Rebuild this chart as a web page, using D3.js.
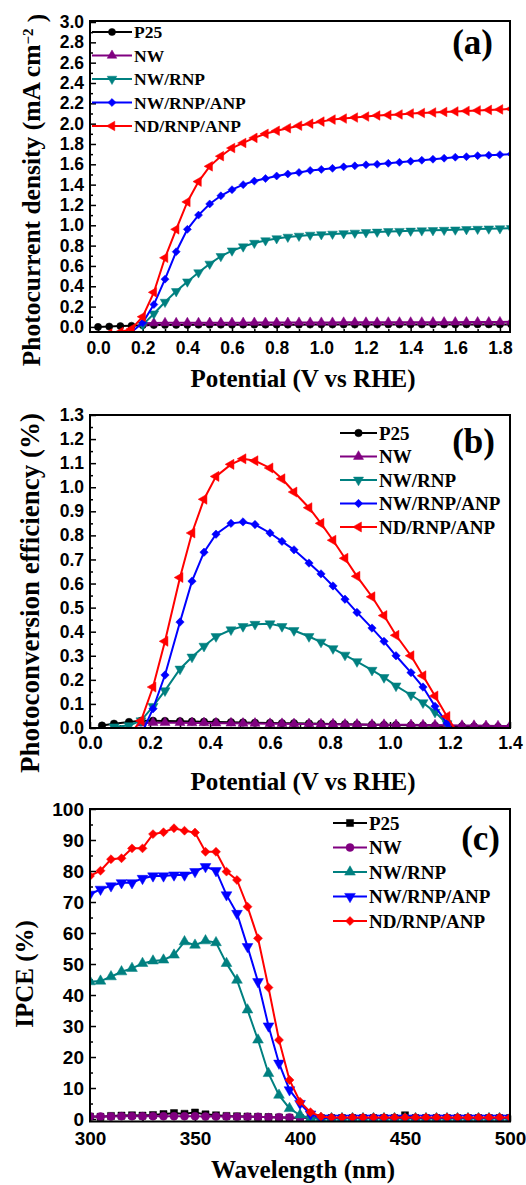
<!DOCTYPE html>
<meta charset="utf-8">
<head>
<title>Photocurrent, photoconversion efficiency and IPCE</title>
<style>
  body { margin: 0; background: #fff; }
  .axis path { display: none; }
  .axis line { stroke: #000; stroke-width: 1.5; }
</style>
</head>
<body>
<script src="https://cdn.jsdelivr.net/npm/d3@7/dist/d3.min.js"></script>
<script>

// series shared by the three panels
var names  = ["P25", "NW", "NW/RNP", "NW/RNP/ANP", "ND/RNP/ANP"];
var colors = ["#000000", "#800080", "#008080", "#0000ff", "#ff0000"];

// (a) photocurrent density (mA cm-2) vs potential (V vs RHE)
var potentialA = [0.00, 0.05, 0.10, 0.15, 0.20, 0.25, 0.30, 0.35, 0.40, 0.45, 0.50, 0.55, 0.60, 0.65, 0.70, 0.75, 0.80, 0.85, 0.90,
                  0.95, 1.00, 1.05, 1.10, 1.15, 1.20, 1.25, 1.30, 1.35, 1.40, 1.45, 1.50, 1.55, 1.60, 1.65, 1.70, 1.75, 1.80, 1.85];
var p25A    = [0.000, 0.004, 0.008, 0.012, 0.016, 0.018, 0.019, 0.020, 0.020, 0.021, 0.021, 0.021, 0.021, 0.022, 0.022, 0.022, 0.022, 0.022, 0.022,
               0.023, 0.023, 0.023, 0.023, 0.023, 0.023, 0.023, 0.024, 0.024, 0.024, 0.024, 0.024, 0.024, 0.024, 0.025, 0.025, 0.025, 0.025, 0.025];
var nwA     = [null, null, null, null, 0.035, 0.038, 0.040, 0.040, 0.041, 0.041, 0.042, 0.042, 0.042, 0.042, 0.043, 0.043, 0.043, 0.043, 0.044,
               0.044, 0.044, 0.044, 0.045, 0.045, 0.045, 0.045, 0.046, 0.046, 0.046, 0.046, 0.047, 0.047, 0.047, 0.048, 0.048, 0.048, 0.049, 0.050];
var nwRnpA  = [null, null, null, null, 0.02, 0.13, 0.245, 0.35, 0.445, 0.535, 0.62, 0.695, 0.75, 0.79, 0.825, 0.85, 0.87, 0.885, 0.895,
               0.905, 0.91, 0.915, 0.92, 0.925, 0.93, 0.935, 0.94, 0.942, 0.945, 0.948, 0.95, 0.953, 0.956, 0.96, 0.963, 0.966, 0.968, 0.97];
var nwRnpAnpA = [null, null, -0.07, -0.05, 0.04, 0.22, 0.47, 0.74, 0.96, 1.10, 1.21, 1.29, 1.35, 1.40, 1.435, 1.46, 1.485, 1.505, 1.52,
                 1.54, 1.55, 1.56, 1.575, 1.585, 1.595, 1.60, 1.61, 1.62, 1.63, 1.64, 1.65, 1.66, 1.67, 1.675, 1.685, 1.69, 1.695, 1.70];
var ndRnpAnpA = [null, -0.065, -0.05, -0.02, 0.10, 0.34, 0.68, 0.96, 1.23, 1.43, 1.58, 1.68, 1.76, 1.81, 1.86, 1.90, 1.93, 1.955, 1.98,
                 2.00, 2.02, 2.04, 2.05, 2.06, 2.07, 2.08, 2.085, 2.09, 2.10, 2.105, 2.11, 2.115, 2.12, 2.125, 2.13, 2.135, 2.14, 2.145];
var yTicksA = [0.0, 0.2, 0.4, 0.6, 0.8, 1.0, 1.2, 1.4, 1.6, 1.8, 2.0, 2.2, 2.4, 2.6, 2.8, 3.0];
var xTicksA = [0.0, 0.2, 0.4, 0.6, 0.8, 1.0, 1.2, 1.4, 1.6, 1.8];

// (b) photoconversion efficiency (%) vs potential (V vs RHE)
var potentialB = [0.04, 0.08, 0.13, 0.17, 0.21, 0.25, 0.30, 0.34, 0.38, 0.42, 0.47, 0.51, 0.55, 0.60, 0.64, 0.68, 0.73,
                  0.77, 0.81, 0.85, 0.89, 0.94, 0.98, 1.02, 1.07, 1.11, 1.15, 1.19, 1.24, 1.28, 1.32, 1.36, 1.40];
var p25B    = [0.010, 0.018, 0.025, 0.030, 0.030, 0.029, 0.028, 0.027, 0.026, 0.025, 0.024, 0.023, 0.022, 0.021, 0.020, 0.020, 0.019,
               0.018, 0.017, 0.016, 0.015, 0.014, 0.013, 0.012, 0.011, 0.010, 0.009, 0.008, 0.007, 0.006, 0.005, 0.004, 0.003];
var nwB     = [null, null, null, 0.020, 0.022, 0.022, 0.022, 0.021, 0.021, 0.020, 0.020, 0.019, 0.019, 0.018, 0.018, 0.017, 0.017,
               0.016, 0.016, 0.015, 0.015, 0.014, 0.014, 0.013, 0.013, 0.012, 0.012, 0.011, 0.010, 0.010, 0.009, 0.008, 0.008];
var nwRnpB  = [null, 0.005, 0.01, 0.03, 0.09, 0.155, 0.245, 0.295, 0.34, 0.38, 0.408, 0.422, 0.431, 0.433, 0.422, 0.405, 0.38,
               0.357, 0.33, 0.303, 0.276, 0.24, 0.21, 0.175, 0.137, 0.105, 0.066, 0.018, -0.05, null, null, null, null];
var nwRnpAnpB = [null, null, null, -0.03, 0.08, 0.22, 0.44, 0.61, 0.73, 0.805, 0.85, 0.856, 0.845, 0.81, 0.775, 0.74, 0.685,
                 0.64, 0.59, 0.535, 0.48, 0.415, 0.36, 0.30, 0.23, 0.17, 0.09, 0.02, -0.06, null, null, null, null];
var ndRnpAnpB = [null, null, -0.03, 0.03, 0.17, 0.36, 0.625, 0.81, 0.95, 1.045, 1.095, 1.118, 1.11, 1.08, 1.035, 0.98, 0.915,
                 0.85, 0.78, 0.705, 0.63, 0.545, 0.467, 0.385, 0.30, 0.217, 0.133, 0.048, -0.05, null, null, null, null];
var yTicksB = [0.0, 0.1, 0.2, 0.3, 0.4, 0.5, 0.6, 0.7, 0.8, 0.9, 1.0, 1.1, 1.2, 1.3];
var xTicksB = [0.0, 0.2, 0.4, 0.6, 0.8, 1.0, 1.2, 1.4];

// (c) IPCE (%) vs wavelength (nm)
var wavelengthC = [300, 305, 310, 315, 320, 325, 330, 335, 340, 345, 350, 355, 360, 365, 370, 375, 380, 385, 390, 395, 400,
                   405, 410, 415, 420, 425, 430, 435, 440, 445, 450, 455, 460, 465, 470, 475, 480, 485, 490, 495, 500];
var p25C    = [0.8, 0.7, 1.0, 1.1, 1.2, 1.1, 1.3, 1.6, 1.9, 1.7, 2.1, 1.5, 1.2, 1.0, 0.9, 0.8, 0.7, 0.6, 0.5, 0.4, 0.3,
               0.3, 0.3, 0.3, 0.3, 0.3, 0.3, 0.3, 0.3, 0.3, 1.2, 0.3, 0.3, 0.3, 0.3, 0.3, 0.3, 0.3, 0.3, 0.3, 0.3];
var nwC     = [0.8, 0.8, 0.8, 0.9, 0.9, 0.9, 0.9, 0.9, 0.9, 0.9, 0.9, 0.8, 0.8, 0.8, 0.7, 0.7, 0.7, 0.6, 0.6, 0.5, 0.4,
               0.3, 0.3, 0.3, 0.3, 0.3, 0.3, 0.3, 0.3, 0.3, 0.3, 0.3, 0.3, 0.3, 0.3, 0.3, 0.3, 0.3, 0.3, 0.3, 0.3];
var nwRnpC  = [44.3, 44.5, 45.9, 47.5, 48.6, 50.2, 51.0, 51.3, 52.9, 57.2, 56.1, 57.5, 56.9, 50.2, 44.8, 35.2, 25.5, 14.7, 7.7, 3.4, 1.3,
               0.2, 0.2, 0.2, 0.2, 0.2, 0.2, 0.2, 0.2, 0.2, 0.2, 0.2, 0.2, 0.2, 0.2, 0.2, 0.2, 0.2, 0.2, 0.2, 0.2];
var nwRnpAnpC = [72.5, 74.1, 75.2, 76.2, 76.2, 77.6, 78.4, 78.4, 78.7, 78.7, 79.8, 81.4, 80.1, 72.3, 66.3, 55.6, 44.3, 30.0, 18.0, 9.4, 5.0,
                 1.6, 0.3, 0.3, 0.3, 0.3, 0.3, 0.3, 0.3, 0.3, 0.3, 0.3, 0.3, 0.3, 0.3, 0.3, 0.3, 0.3, 0.3, 0.3, 0.3];
var ndRnpAnpC = [78.4, 80.1, 83.8, 84.1, 87.3, 87.3, 91.9, 92.5, 93.8, 93.0, 92.4, 86.2, 86.2, 79.8, 77.1, 68.5, 58.3, 42.4, 25.5, 12.6, 5.6,
                 2.2, 0.75, 0.5, 0.5, 0.5, 0.5, 0.5, 0.5, 0.5, 0.5, 0.5, 0.5, 0.5, 0.5, 0.5, 0.5, 0.5, 0.5, 0.5, 0.5];
var yTicksC = [0, 10, 20, 30, 40, 50, 60, 70, 80, 90, 100];
var xTicksC = [300, 350, 400, 450, 500];


var svg = d3.select("body").append("svg")
    .attr("width", 526)
    .attr("height", 1185)
    .attr("font-family", "'Liberation Serif', 'DejaVu Serif', serif")
    .attr("font-weight", "bold");

var symbolTypes = {circle: d3.symbolCircle, square: d3.symbolSquare, diamond: d3.symbolSquare,
                   up: d3.symbolTriangle, down: d3.symbolTriangle, left: d3.symbolTriangle};
var symbolRot = {diamond: 45, down: 180, left: -90};

function drawMarker(sel, kind, size, color, cx, cy) {
  sel.append("path")
      .attr("d", d3.symbol().type(symbolTypes[kind]).size(kind == "diamond" ? size * 0.8 : size)())
      .attr("transform", "translate(" + cx + "," + cy + ") rotate(" + (symbolRot[kind] || 0) + ")")
      .style("fill", color)
      .style("stroke", color)
      .style("stroke-width", 0.5);
}

function minorsOf(ticks, lo, hi) {
  var step = ticks[1] - ticks[0], out = [];
  ticks.forEach(function(t) {
    var m = t + step / 2;
    if (m > lo && m < hi) out.push(m);
  });
  var first = ticks[0] - step / 2;
  if (first > lo) out.push(first);
  return out;
}

function drawPanel(p) {
  var x = d3.scaleLinear().domain(p.xDomain).range([p.left, p.right]);
  var y = d3.scaleLinear().domain(p.yDomain).range([p.bottom, p.top]);
  var g = svg.append("g");

  g.append("clipPath").attr("id", "clip-" + p.id)
    .append("rect")
      .attr("x", p.left).attr("y", p.top)
      .attr("width", p.right - p.left).attr("height", p.bottom - p.top);

  // minor ticks
  g.append("g").attr("class", "axis")
      .attr("transform", "translate(0," + p.bottom + ")")
      .call(d3.axisBottom(x).tickValues(minorsOf(p.xTicks, p.xDomain[0], p.xDomain[1])).tickSize(-3).tickFormat(""));
  g.append("g").attr("class", "axis")
      .attr("transform", "translate(" + p.left + ",0)")
      .call(d3.axisLeft(y).tickValues(minorsOf(p.yTicks, p.yDomain[0], p.yDomain[1])).tickSize(-3).tickFormat(""));

  // major ticks
  g.append("g").attr("class", "axis")
      .attr("transform", "translate(0," + p.bottom + ")")
      .call(d3.axisBottom(x).tickValues(p.xTicks).tickSizeInner(-6).tickSizeOuter(0).tickPadding(p.xPad).tickFormat(p.format));
  g.append("g").attr("class", "axis")
      .attr("transform", "translate(" + p.left + ",0)")
      .call(d3.axisLeft(y).tickValues(p.yTicks).tickSizeInner(-6).tickSizeOuter(0).tickPadding(6).tickFormat(p.format));
  g.selectAll(".axis text")
      .attr("font-family", null)
      .attr("font-size", p.tickFont)
      .attr("fill", "#000");

  // curves
  var plot = g.append("g").attr("clip-path", "url(#clip-" + p.id + ")");
  var line = d3.line().x(function(d) { return x(d[0]); }).y(function(d) { return y(d[1]); });
  p.series.forEach(function(vals, i) {
    var pts = [];
    vals.forEach(function(v, j) { if (v != null) pts.push([p.xs[j], v]); });
    plot.append("path")
        .attr("d", line(pts))
        .style("fill", "none")
        .style("stroke", colors[i])
        .style("stroke-width", 2);
    pts.forEach(function(d) {
      drawMarker(plot, p.markers[i], p.markerSize, colors[i], x(d[0]), y(d[1]));
    });
  });

  // frame
  g.append("rect")
      .attr("x", p.left).attr("y", p.top)
      .attr("width", p.right - p.left).attr("height", p.bottom - p.top)
      .style("fill", "none").style("stroke", "#000").style("stroke-width", 2);

  // legend
  names.forEach(function(name, i) {
    var ly = p.legend.y + i * p.legend.gap;
    g.append("line")
        .attr("x1", p.legend.x1).attr("x2", p.legend.x2).attr("y1", ly).attr("y2", ly)
        .style("stroke", colors[i]).style("stroke-width", 2);
    drawMarker(g, p.markers[i], p.markerSize, colors[i], (p.legend.x1 + p.legend.x2) / 2, ly);
    g.append("text")
        .attr("x", p.legend.x2 + 2).attr("y", ly).attr("dy", "0.35em")
        .attr("font-size", p.legend.font)
        .text(name);
  });

  // panel letter
  g.append("text")
      .attr("x", p.letter.x).attr("y", p.letter.y)
      .attr("text-anchor", "end")
      .attr("font-size", 35)
      .text(p.letter.text);

  // axis titles
  g.append("text")
      .attr("x", (p.left + p.right) / 2 + 3).attr("y", p.xTitleY)
      .attr("text-anchor", "middle")
      .attr("font-size", 25)
      .text(p.xTitle);
  var yt = g.append("text")
      .attr("transform", "translate(" + p.yTitle.x + "," + p.yTitle.y + ") rotate(-90)")
      .attr("text-anchor", "middle")
      .attr("font-size", p.yTitle.font)
      .text(p.yTitle.text);
  if (p.yTitle.sup) {
    yt.append("tspan").attr("dy", "-0.45em").attr("font-size", 15).text(p.yTitle.sup);
    yt.append("tspan").attr("dy", "0.45em").text(p.yTitle.tail);
  }
}

drawPanel({
  id: "a", left: 90, right: 510, top: 21, bottom: 332,
  xDomain: [-0.036, 1.845], yDomain: [-0.05, 3.01],
  xs: potentialA, series: [p25A, nwA, nwRnpA, nwRnpAnpA, ndRnpAnpA],
  markers: ["circle", "up", "down", "diamond", "left"], markerSize: 40,
  xTicks: xTicksA, yTicks: yTicksA, format: d3.format(".1f"), tickFont: 17.5, xPad: 10,
  legend: {x1: 92, x2: 132, y: 32, gap: 23.5, font: 17.5},
  letter: {text: "(a)", x: 493, y: 54},
  xTitle: "Potential (V vs RHE)", xTitleY: 387,
  yTitle: {text: "Photocurrent density (mA cm", sup: "\u22122", tail: " )", x: 40, y: 190, font: 25.5}
});

drawPanel({
  id: "b", left: 90, right: 510, top: 415, bottom: 728,
  xDomain: [0, 1.4], yDomain: [0, 1.3],
  xs: potentialB, series: [p25B, nwB, nwRnpB, nwRnpAnpB, ndRnpAnpB],
  markers: ["circle", "up", "down", "diamond", "left"], markerSize: 44,
  xTicks: xTicksB, yTicks: yTicksB, format: d3.format(".1f"), tickFont: 17.5, xPad: 9,
  legend: {x1: 340, x2: 377, y: 433, gap: 23.5, font: 19},
  letter: {text: "(b)", x: 495, y: 453},
  xTitle: "Potential (V vs RHE)", xTitleY: 790,
  yTitle: {text: "Photoconversion efficiency (%)", x: 39, y: 593, font: 27}
});

drawPanel({
  id: "c", left: 90, right: 510, top: 809, bottom: 1121.5,
  xDomain: [300, 500], yDomain: [-0.8, 100],
  xs: wavelengthC, series: [p25C, nwC, nwRnpC, nwRnpAnpC, ndRnpAnpC],
  markers: ["square", "circle", "up", "down", "diamond"], markerSize: 50,
  xTicks: xTicksC, yTicks: yTicksC, format: d3.format("d"), tickFont: 19, xPad: 10,
  legend: {x1: 333, x2: 367, y: 823, gap: 24.5, font: 19},
  letter: {text: "(c)", x: 500, y: 850},
  xTitle: "Wavelength (nm)", xTitleY: 1178,
  yTitle: {text: "IPCE (%)", x: 33, y: 974, font: 25}
});

</script>
</body>
